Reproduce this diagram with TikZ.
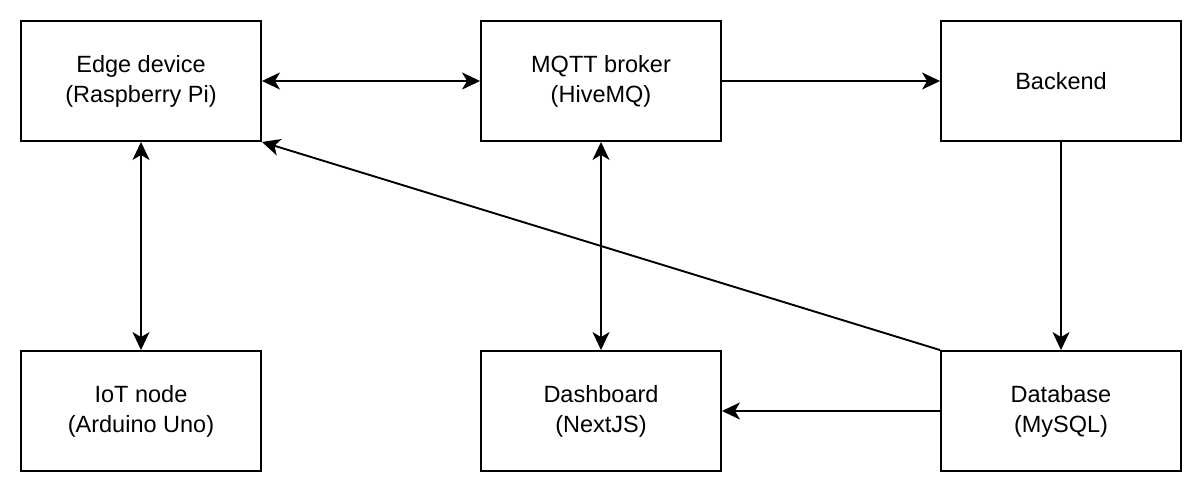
\documentclass[tikz,border=0pt]{standalone}
\usepackage{fontspec}
\setmainfont{Liberation Sans}
\usetikzlibrary{arrows.meta}
\begin{document}
\begin{tikzpicture}[x=1pt,y=-1pt,
  box/.style={draw, line width=1.9pt, minimum width=240pt, minimum height=120pt, align=center, font=\fontsize{23.5}{30}\selectfont, inner sep=0pt},
  conn/.style={line width=1.9pt, -{Stealth[length=18pt,width=17pt,inset=5pt]}},
  bconn/.style={line width=1.9pt, {Stealth[length=18pt,width=17pt,inset=5pt]}-{Stealth[length=18pt,width=17pt,inset=5pt]}}]
\useasboundingbox (0,0) rectangle (1202,494);
\node[box] (edge) at (141,81) {Edge device\\(Raspberry Pi)};
\node[box] (mqtt) at (601,81) {MQTT broker\\(HiveMQ)};
\node[box] (back) at (1061,81) {Backend};
\node[box] (iot) at (141,411) {IoT node\\(Arduino Uno)};
\node[box] (dash) at (601,411) {Dashboard\\(NextJS)};
\node[box] (db) at (1061,411) {Database\\(MySQL)};
\draw[bconn] (edge) -- (mqtt);
\draw[conn] (mqtt) -- (back);
\draw[conn] (back) -- (db);
\draw[conn] (db) -- (dash);
\draw[bconn] (mqtt) -- (dash);
\draw[bconn] (edge) -- (iot);
\draw[conn] (db.north west) -- (edge.south east);
\end{tikzpicture}
\end{document}
